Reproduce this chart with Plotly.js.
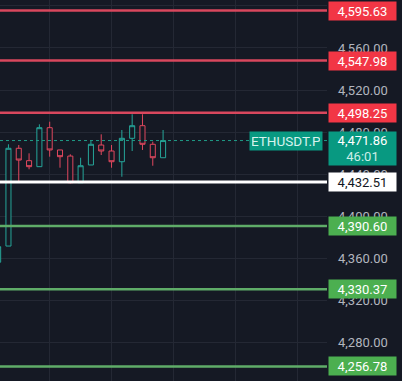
<!DOCTYPE html>
<html>
<head>
<meta charset="utf-8">
<script src="https://cdn.plot.ly/plotly-3.0.1.min.js"></script>
<style>
html,body{margin:0;padding:0;background:#151924;}
#chart{width:402px;height:381px;}
</style>
</head>
<body>
<div id="chart"></div>
<script>
// Candle data (index = bar position)
const barIndex = [0,1,2,3,4,5,6,7,8,9,10,11,12,13,14,15,16];
const opens  = [4356.0,4371.4,4464.5,4452.7,4447.0,4484.1,4462.9,4457.1,4431.7,4448.6,4467.6,4461.9,4451.7,4474.0,4486.0,4468.3,4455.5];
const highs  = [4372.0,4468.3,4467.6,4459.7,4487.3,4489.8,4462.9,4458.8,4455.5,4471.7,4477.8,4467.6,4481.9,4496.9,4496.9,4470.8,4481.9];
const lows   = [4350.0,4371.4,4433.3,4444.5,4447.0,4456.5,4446.0,4431.0,4431.7,4448.6,4458.1,4446.0,4437.4,4461.9,4462.9,4447.9,4455.5];
const closes = [4370.8,4464.5,4453.3,4447.0,4484.1,4462.9,4456.5,4431.7,4447.9,4468.3,4461.9,4451.7,4474.0,4486.0,4468.3,4455.5,4471.86];

// Horizontal price levels
const resistanceLevels = [4595.63, 4547.98, 4498.25];
const pivotLevel = 4432.51;
const supportLevels = [4390.60, 4330.37, 4256.78];
const currentPrice = 4471.86;
const symbol = "ETHUSDT.P";
const countdown = "46:01";
const yTicks = [4240,4280,4320,4360,4400,4440,4480,4520,4560,4600];

const BG = "#151924";
const UP = "#26a69a";
const DOWN = "#e0485e";
const fmt = v => v.toLocaleString("en-US",{minimumFractionDigits:2,maximumFractionDigits:2});

const trace = {
  type: "candlestick",
  x: barIndex, open: opens, high: highs, low: lows, close: closes,
  increasing: {line:{color:UP,width:1}, fillcolor:BG},
  decreasing: {line:{color:DOWN,width:1}, fillcolor:BG},
  whiskerwidth: 0,
  hoverinfo: "skip",
  showlegend: false
};

const shapes = [];
const annotations = [];
const LABEL_X = 1.003;

function levelLine(y, color, width){
  shapes.push({type:"line", xref:"paper", x0:0, x1:1, yref:"y", y0:y, y1:y,
    line:{color:color, width:width}, layer:"above"});
}
function levelLabel(y, bg, fg){
  annotations.push({xref:"paper", x:LABEL_X, xanchor:"left", yref:"y", y:y, yanchor:"middle",
    text:fmt(y), showarrow:false, bgcolor:bg, width:63, height:14, borderpad:2, align:"center",
    font:{family:"Roboto, sans-serif", size:13, color:fg}});
}

// current price dotted line
shapes.push({type:"line", xref:"paper", x0:0, x1:1, yref:"y", y0:currentPrice, y1:currentPrice,
  line:{color:"#1f9c88", width:1, dash:"dot"}, layer:"above"});

resistanceLevels.forEach(v => { levelLine(v, "#d9475d", 2.5); levelLabel(v, "#f23645", "#ffffff"); });
supportLevels.forEach(v => { levelLine(v, "#5fac68", 2.5); levelLabel(v, "#4caf50", "#ffffff"); });
levelLine(pivotLevel, "#ffffff", 3);
levelLabel(pivotLevel, "#ffffff", "#131722");

// current price label
annotations.push({xref:"paper", x:LABEL_X, xanchor:"left", yref:"y", y:currentPrice, yanchor:"top", yshift:10,
  text:fmt(currentPrice)+"<br><span style='color:#cdeee8'>"+countdown+"</span>", showarrow:false,
  bgcolor:"#089981", width:63, height:29, borderpad:2, align:"center",
  font:{family:"Roboto, sans-serif", size:13, color:"#ffffff"}});
// symbol label
annotations.push({xref:"paper", x:0.988, xanchor:"right", yref:"y", y:currentPrice, yanchor:"middle",
  text:symbol, showarrow:false, bgcolor:"#089981", width:68, height:14, borderpad:2, align:"center",
  font:{family:"Roboto, sans-serif", size:13.5, color:"#d6f3ee"}});

const layout = {
  width:402, height:381,
  margin:{l:0, r:75, t:0, b:0},
  paper_bgcolor:BG, plot_bgcolor:BG,
  showlegend:false,
  xaxis:{range:[0.18, 31.9], tick0:5, dtick:6, showticklabels:false, showgrid:true,
    gridcolor:"#242834", gridwidth:1, zeroline:false, rangeslider:{visible:false}, fixedrange:true},
  yaxis:{side:"right", range:[4242.9, 4605.7], tickvals:yTicks, tickformat:",.2f",
    showgrid:true, gridcolor:"#242834", gridwidth:1, zeroline:false, ticks:"",
    ticklabelstandoff:10, tickfont:{family:"Roboto, sans-serif", size:13, color:"#b2b5be"}, fixedrange:true},
  shapes:shapes,
  annotations:annotations
};

Plotly.newPlot("chart", [trace], layout, {staticPlot:true, displayModeBar:false});
</script>
</body>
</html>
